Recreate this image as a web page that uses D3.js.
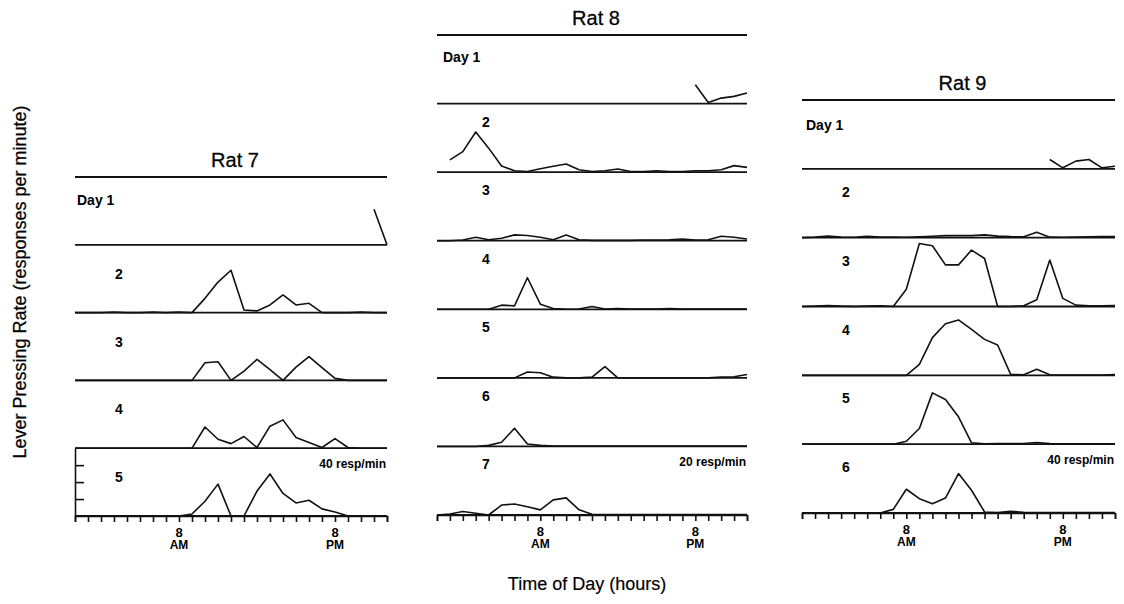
<!DOCTYPE html>
<html>
<head>
<meta charset="utf-8">
<script src="https://cdn.jsdelivr.net/npm/d3@7"></script>
<style>
  body { margin: 0; background: #fff; }
  svg { display: block; font-family: "Liberation Sans", Arial, Helvetica, sans-serif; }
</style>
</head>
<body>
<div id="chart"></div>
<script>
// hourly samples, 0 = midnight ... 24 = next midnight (null = not recorded)
const hours = d3.range(0, 25)
const tickHours = [8, 20]
const tickLabels = ["8", "8"]
const tickSubLabels = ["AM", "PM"]

// Rat 7, resp/min
const rat7Day1 = [null, null, null, null, null, null, null, null, null, null, null, null, null, null, null, null, null, null, null, null, null, null, null, 21, 0]
const rat7Day2 = [0, 0, 0, 0.3, 0, 0, 0.3, 0, 0.3, 0, 8.4, 18, 25, 1.5, 1, 4.5, 10.4, 4.5, 5.5, 0, 0, 0, 0.3, 0, 0]
const rat7Day3 = [0, 0, 0, 0, 0, 0, 0, 0, 0, 0, 10.4, 11, 0, 5.5, 12.4, 6.3, 0, 7.8, 14, 7.5, 1.2, 0, 0, 0, 0]
const rat7Day4 = [0, 0, 0, 0, 0, 0, 0, 0, 0, 0, 12.5, 5.3, 2.7, 6.9, 0.4, 13, 16.7, 6.3, 3.3, 0.4, 5.7, 0.4, 0, 0, 0]
const rat7Day5 = [0, 0, 0, 0, 0, 0, 0, 0, 0, 1.2, 8.7, 18.8, 0, 0, 14.7, 24.8, 13.3, 7.7, 9.3, 4.2, 2.4, 0, 0, 0, 0]

// Rat 8, resp/min
const rat8Day1 = [null, null, null, null, null, null, null, null, null, null, null, null, null, null, null, null, null, null, null, null, 5.5, 0.3, 1.6, 2.1, 3.1]
const rat8Day2 = [null, 3.6, 6, 11.7, 7, 1.8, 0.4, 0.2, 1, 1.7, 2.4, 0.7, 0.2, 0.4, 0.9, 0.2, 0.2, 0.4, 0.2, 0.2, 0.4, 0.4, 0.7, 1.9, 1.4]
const rat8Day3 = [0, 0, 0.2, 1, 0.3, 0.7, 1.7, 1.5, 1, 0.3, 1.7, 0.3, 0.1, 0.1, 0.1, 0.1, 0.2, 0.2, 0.3, 0.5, 0.2, 0.3, 1.3, 1, 0.5]
const rat8Day4 = [0, 0, 0, 0, 0, 1.2, 1, 9.2, 1.5, 0.2, 0, 0.1, 0.8, 0.1, 0.2, 0.1, 0.1, 0.1, 0.2, 0.1, 0.1, 0.1, 0.1, 0.1, 0.1]
const rat8Day5 = [0, 0, 0, 0, 0, 0, 0, 1.7, 1.5, 0.2, 0, 0, 0.2, 3.3, 0, 0, 0, 0, 0, 0, 0, 0, 0.2, 0.3, 1]
const rat8Day6 = [0, 0, 0, 0, 0.3, 1.2, 5.3, 0.7, 0.3, 0.1, 0.1, 0.1, 0.1, 0.1, 0.1, 0.1, 0.1, 0.1, 0.1, 0.1, 0.1, 0.1, 0.1, 0.1, 0.1]
const rat8Day7 = [0, 0.3, 1, 0.5, 0, 2.9, 3.2, 2.4, 1.5, 4.4, 5, 1.5, 0.2, 0.1, 0.1, 0.1, 0.1, 0.1, 0.1, 0.1, 0.1, 0.1, 0.1, 0.1, 0.1]

// Rat 9, resp/min
const rat9Day1 = [null, null, null, null, null, null, null, null, null, null, null, null, null, null, null, null, null, null, null, 5.4, 0.6, 4.5, 5.4, 0.6, 1.5]
const rat9Day2 = [0, 0.3, 1, 0.3, 0.2, 0.8, 0.4, 0.3, 0.2, 0.5, 0.8, 1.2, 1.2, 1.2, 1.6, 0.9, 0.6, 0.5, 3.2, 0.3, 0.2, 0.4, 0.5, 0.6, 0.6]
const rat9Day3 = [0, 0.2, 0.6, 0.2, 0, 0.2, 0.4, 0, 10, 36.6, 35.3, 24.2, 24.2, 32.8, 27.9, 0, 0, 0.4, 3.9, 27, 4.7, 0.8, 0.4, 0.4, 0.6]
const rat9Day4 = [0, 0, 0, 0, 0, 0, 0, 0, 0, 6.4, 21.9, 30, 32.2, 26.7, 20.9, 17.6, 0.6, 0.3, 3.5, 0.3, 0.2, 0.2, 0.2, 0.2, 0.5]
const rat9Day5 = [0, 0, 0, 0, 0, 0, 0, 0, 1.7, 9.1, 29.8, 26, 15.9, 0.8, 0.2, 0.3, 0.3, 0.4, 1, 0.3, 0.2, 0.2, 0.2, 0.2, 0.2]
const rat9Day6 = [0, 0, 0, 0, 0, 0, 0, 2.1, 13.8, 8.3, 5.4, 8.7, 22.9, 13.2, 0.6, 0.2, 1, 0.4, 0.3, 0.3, 0.3, 0.3, 0.3, 0.3, 0.3]

const panels = [
    { title: "Rat 7", days: [rat7Day1, rat7Day2, rat7Day3, rat7Day4, rat7Day5], scaleMax: 40,
      left: 75, right: 387, top: 177, bottom: 516, dayOff: 28, numOff: 34, dayX: 2, numX: 40, yAxis: true },
    { title: "Rat 8", days: [rat8Day1, rat8Day2, rat8Day3, rat8Day4, rat8Day5, rat8Day6, rat8Day7], scaleMax: 20,
      left: 437, right: 747, top: 35, bottom: 515, dayOff: 27, numOff: 23, dayX: 6, numX: 45, yAxis: false },
    { title: "Rat 9", days: [rat9Day1, rat9Day2, rat9Day3, rat9Day4, rat9Day5, rat9Day6], scaleMax: 40,
      left: 802, right: 1115, top: 100, bottom: 513, dayOff: 30, numOff: 28, dayX: 4, numX: 40, yAxis: false }
]

const W = 1124, H = 604

var svg = d3.select("#chart")
    .append("svg")
    .attr("width", W)
    .attr("height", H)

panels.forEach(p => {
    var g = svg.append("g")
    var x = d3.scaleLinear().domain([0, 24]).range([p.left, p.right])
    var n = p.days.length
    var rowH = (p.bottom - p.top) / n

    // panel title
    g.append("text")
        .attr("x", (p.left + p.right) / 2 + 4)
        .attr("y", p.top - 10)
        .attr("text-anchor", "middle")
        .style("font-size", "20px")
        .style("stroke", "#111").style("stroke-width", 0.3)
        .text(p.title)

    // top rule
    g.append("line")
        .attr("x1", p.left).attr("x2", p.right)
        .attr("y1", p.top).attr("y2", p.top)
        .attr("stroke", "#111").attr("stroke-width", 1.8)

    p.days.forEach((vals, i) => {
        var base = p.top + rowH * (i + 1)
        var y = d3.scaleLinear().domain([0, p.scaleMax]).range([base, base - rowH])

        // baseline of the row
        g.append("line")
            .attr("x1", p.left).attr("x2", p.right)
            .attr("y1", base).attr("y2", base)
            .attr("stroke", "#111").attr("stroke-width", 1.8)

        var line = d3.line()
            .defined(d => d != null)
            .x((d, j) => x(hours[j]))
            .y(d => y(d))

        g.append("path")
            .datum(vals)
            .attr("d", line)
            .attr("fill", "none")
            .attr("stroke", "#111")
            .attr("stroke-width", 1.6)
            .attr("stroke-linejoin", "round")

        // day label
        var rowTop = base - rowH
        g.append("text")
            .attr("x", p.left + (i == 0 ? p.dayX : p.numX))
            .attr("y", rowTop + (i == 0 ? p.dayOff : p.numOff))
            .style("font-size", "14px")
            .style("font-weight", "bold")
            .text(i == 0 ? "Day 1" : String(i + 1))

        if (i == n - 1) {
            // scale note
            g.append("text")
                .attr("x", p.right - 1)
                .attr("y", rowTop + 20)
                .attr("text-anchor", "end")
                .style("font-size", "12px")
                .style("font-weight", "bold")
                .text(p.scaleMax + " resp/min")

            // hour ticks under the last row
            var xAxis = g.append("g")
                .attr("transform", "translate(0," + base + ")")
                .call(d3.axisBottom(x).tickValues(hours).tickSize(6).tickFormat(""))
            xAxis.selectAll("path, line").attr("stroke", "#111").attr("stroke-width", 1.6)

            tickHours.forEach((h, k) => {
                g.append("text")
                    .attr("x", x(h)).attr("y", base + 21)
                    .attr("text-anchor", "middle")
                    .style("font-size", "13px").style("font-weight", "bold")
                    .text(tickLabels[k])
                g.append("text")
                    .attr("x", x(h)).attr("y", base + 33)
                    .attr("text-anchor", "middle")
                    .style("font-size", "12px").style("font-weight", "bold")
                    .text(tickSubLabels[k])
            })

            if (p.yAxis) {
                var yAxis = g.append("g")
                    .attr("transform", "translate(" + p.left + ",0)")
                    .call(d3.axisRight(y).tickValues([10, 20, 30]).tickSize(9).tickSizeOuter(0).tickFormat(""))
                yAxis.selectAll("path, line").attr("stroke", "#111").attr("stroke-width", 1.6)
            }
        }
    })
})

// axis titles
svg.append("text")
    .attr("transform", "translate(26,282) rotate(-90)")
    .attr("text-anchor", "middle")
    .style("font-size", "18px")
    .style("stroke", "#111").style("stroke-width", 0.3)
    .text("Lever Pressing  Rate (responses per minute)")

svg.append("text")
    .attr("x", 587).attr("y", 590)
    .attr("text-anchor", "middle")
    .style("font-size", "18px")
    .style("stroke", "#111").style("stroke-width", 0.2)
    .text("Time of Day (hours)")
</script>
</body>
</html>
